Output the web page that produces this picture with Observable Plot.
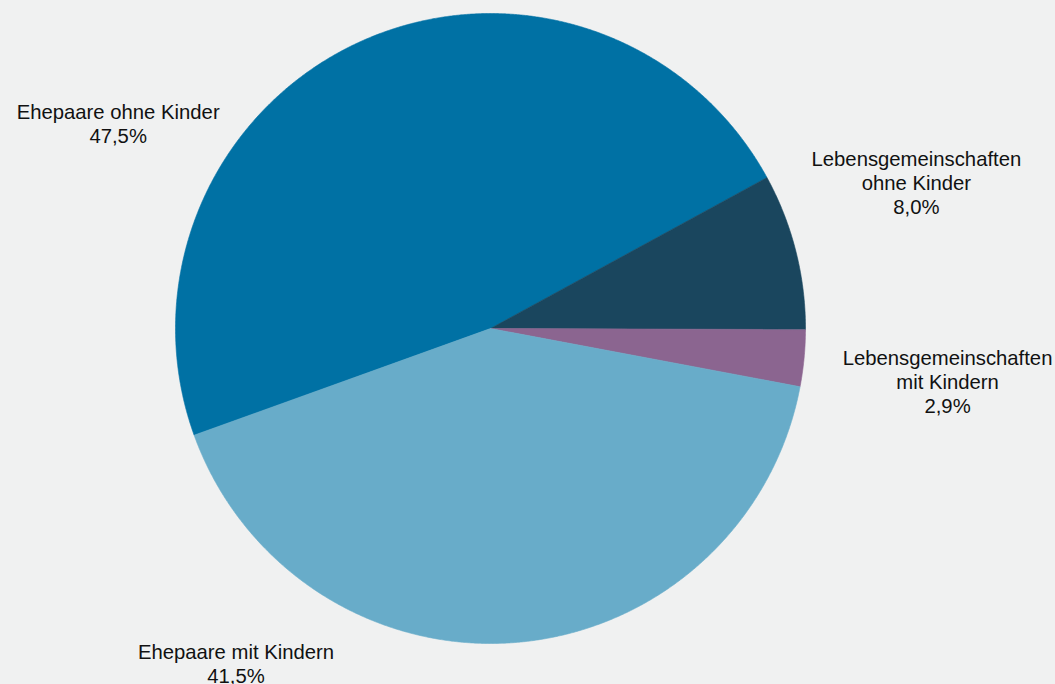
<!DOCTYPE html>
<html>
<head>
<meta charset="utf-8">
<script src="https://cdn.jsdelivr.net/npm/d3@7"></script>
<script src="https://cdn.jsdelivr.net/npm/@observablehq/plot@0.6"></script>
<style>
  html, body { margin: 0; padding: 0; background: #f0f1f1; }
  #chart svg { display: block; background: #f0f1f1; }
</style>
</head>
<body>
<div id="chart"></div>
<script>
// Data (clockwise order, as in the reference)
const categories = [
  "Ehepaare ohne Kinder",
  "Lebensgemeinschaften ohne Kinder",
  "Lebensgemeinschaften mit Kindern",
  "Ehepaare mit Kindern"
];
const labels = [
  "Ehepaare ohne Kinder",
  "Lebensgemeinschaften\nohne Kinder",
  "Lebensgemeinschaften\nmit Kindern",
  "Ehepaare mit Kindern"
];
const shares = [47.5, 8.0, 2.9, 41.5];
const colors = ["#0071a4", "#1a465e", "#8b6590", "#68acc9"];

// Layout (label anchor points in the pie's unit coordinates)
const labelPos = [[-1.182, 0.651], [1.352, 0.463], [1.451, -0.168], [-0.808, -1.063]];
const startDeg = -109.8;

const pie = d3.pie().sort(null).value(d => d)
  .startAngle(startDeg * Math.PI / 180)
  .endAngle((startDeg + 360) * Math.PI / 180)(shares);

const wedgePts = [];
pie.forEach((a, i) => {
  const name = categories[i];
  wedgePts.push({name, x: 0, y: 0});
  const n = Math.max(4, Math.ceil((a.endAngle - a.startAngle) / (Math.PI / 720)));
  for (let k = 0; k <= n; k++) {
    const t = a.startAngle + (a.endAngle - a.startAngle) * k / n;
    wedgePts.push({name, x: Math.sin(t), y: Math.cos(t)});
  }
  wedgePts.push({name, x: 0, y: 0});
});

const labelData = categories.map((c, i) => ({
  name: c,
  text: labels[i] + "\n" + shares[i].toFixed(1).replace(".", ",") + "%",
  x: labelPos[i][0],
  y: labelPos[i][1]
}));

const chart = Plot.plot({
  width: 1055,
  height: 684,
  marginLeft: 175,
  marginRight: 250,
  marginTop: 13,
  marginBottom: 41,
  style: {background: "#f0f1f1", fontFamily: "'Liberation Sans', Arial, sans-serif"},
  x: {domain: [-1, 1], axis: null},
  y: {domain: [-1, 1], axis: null},
  color: {domain: categories, range: colors},
  marks: [
    Plot.line(wedgePts, {x: "x", y: "y", z: "name", fill: "name", stroke: "name", strokeWidth: 0.6, curve: "linear"}),
    Plot.text(labelData, {x: "x", y: "y", text: "text", fontSize: 20.3, fill: "#111", lineHeight: 1.18, lineAnchor: "middle", textAnchor: "middle", style: "letter-spacing:0.25px"})
  ]
});
document.getElementById("chart").appendChild(chart);
</script>
</body>
</html>
